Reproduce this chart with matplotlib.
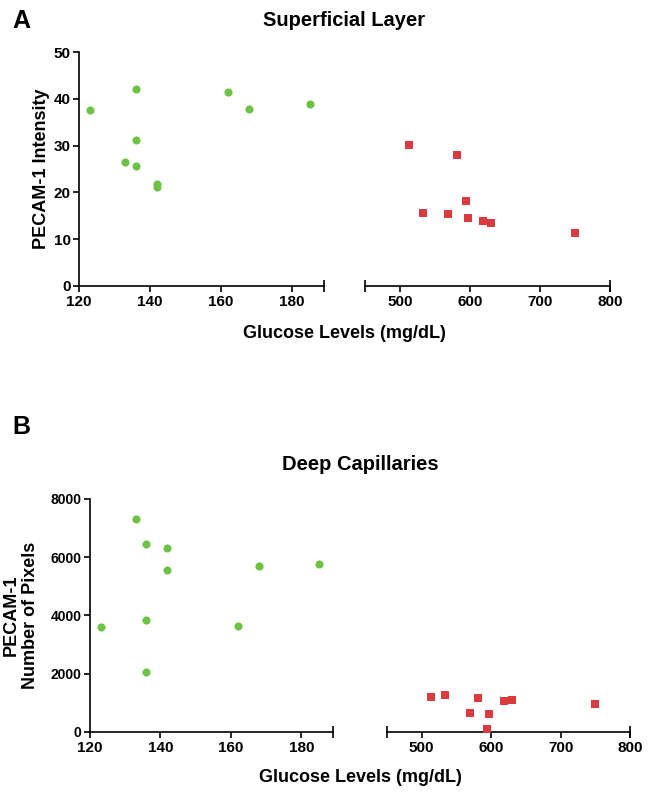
import matplotlib
matplotlib.use("Agg")
import matplotlib.pyplot as plt

plt.rcParams["font.family"] = ["Liberation Sans", "DejaVu Sans"]
plt.rcParams["font.weight"] = "bold"

# Глюкоза, контрольна група (зелені) і діабетична (червоні)
glucose_ctrl = [123, 133, 136, 136, 136, 142, 142, 162, 168, 185]
glucose_diab = [513, 533, 569, 581, 594, 597, 618, 630, 750]

# A: Superficial Layer
intensity_ctrl = [37.6, 26.5, 42.1, 31.2, 25.7, 21.7, 21.2, 41.4, 37.9, 38.9]
intensity_diab = [30.1, 15.6, 15.4, 27.9, 18.1, 14.4, 13.8, 13.4, 11.3]

# B: Deep Capillaries
pixels_ctrl = [3610, 7300, 6470, 3830, 2040, 6315, 5560, 3620, 5680, 5780]
pixels_diab = [1190, 1250, 640, 1150, 90, 600, 1045, 1100, 950]

GREEN = "#6cc242"
RED = "#da3b3f"
W, H = 652, 792


def px_axes(fig, x0, x1, top, bottom):
    return fig.add_axes([x0 / W, (H - bottom) / H, (x1 - x0) / W, (bottom - top) / H])


def style_segment(ax, xlim, xticks, ylim, yticks, show_y, ysize):
    ax.set_xlim(*xlim)
    ax.set_ylim(*ylim)
    ax.set_xticks(xticks)
    ax.spines["top"].set_visible(False)
    ax.spines["right"].set_visible(False)
    ax.spines["bottom"].set_linewidth(1.2)
    ax.spines["left"].set_linewidth(1.2)
    ax.tick_params(axis="x", direction="out", length=4, width=1.2, labelsize=11, pad=3)
    for lab in ax.get_xticklabels():
        lab.set_fontweight("bold")
    if show_y:
        ax.set_yticks(yticks)
        ax.tick_params(axis="y", direction="out", length=4, width=1.2, labelsize=ysize, pad=2)
        for lab in ax.get_yticklabels():
            lab.set_fontweight("bold")
    else:
        ax.spines["left"].set_visible(False)
        ax.set_yticks([])
    ax.patch.set_alpha(0)


def draw_panel(fig, box, ctrl_y, diab_y, ylim, yticks, ysize, ylabel, title, letter,
               title_y, letter_y, xlabel_y, ylabel_x):
    lx0, lx1, rx0, rx1, top, bottom = box
    axl = px_axes(fig, lx0, lx1, top, bottom)
    axr = px_axes(fig, rx0, rx1, top, bottom)

    axl.scatter(glucose_ctrl, ctrl_y, s=34, color=GREEN, marker="o", linewidths=0, clip_on=False, zorder=3)
    axr.scatter(glucose_diab, diab_y, s=38, color=RED, marker="s", linewidths=0, clip_on=False, zorder=3)

    style_segment(axl, (120, 189), [120, 140, 160, 180], ylim, yticks, True, ysize)
    style_segment(axr, (450, 800), [500, 600, 700, 800], ylim, yticks, False, ysize)

    # засічки на кінцях розірваної осі
    axl.plot([1], [0], transform=axl.transAxes, marker="|", markersize=9, mew=1.2, color="black", clip_on=False)
    axr.plot([0, 1], [0, 0], transform=axr.transAxes, marker="|", markersize=9, mew=1.2, color="black",
             linestyle="none", clip_on=False)

    axl.set_ylabel(ylabel, fontsize=13, fontweight="bold", linespacing=1.2)
    axl.yaxis.set_label_coords((ylabel_x - lx0) / (lx1 - lx0), 0.5)

    cx = (lx0 + rx1) / 2 / W
    fig.text(cx, 1 - title_y / H, title, ha="center", va="center", fontsize=14.5, fontweight="bold")
    fig.text(cx, 1 - xlabel_y / H, "Glucose Levels (mg/dL)", ha="center", va="center", fontsize=13,
             fontweight="bold")
    fig.text(12 / W, 1 - letter_y / H, letter, ha="left", va="center", fontsize=18, fontweight="bold")


fig = plt.figure(figsize=(W / 100, H / 100), dpi=100)

draw_panel(fig, (79, 324, 365, 610, 52.3, 285.7), intensity_ctrl, intensity_diab,
           (0, 50), [0, 10, 20, 30, 40, 50], 11, "PECAM-1 Intensity",
           "Superficial Layer", "A", 20, 21, 334, 50)

draw_panel(fig, (90, 333, 387, 630, 499, 731.7), pixels_ctrl, pixels_diab,
           (0, 8000), [0, 2000, 4000, 6000, 8000], 10, "PECAM-1\nNumber of Pixels",
           "Deep Capillaries", "B", 465, 427, 778, 39)

fig.savefig("out.png", dpi=100)
